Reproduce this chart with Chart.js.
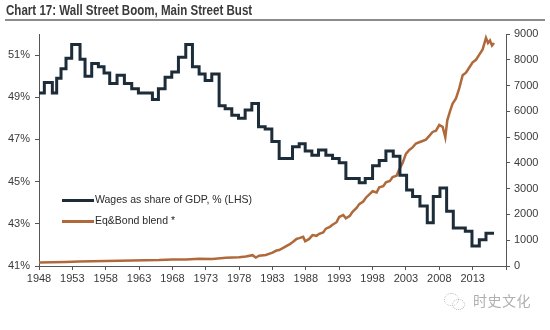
<!DOCTYPE html>
<html>
<head>
<meta charset="utf-8">
<script src="https://cdn.jsdelivr.net/npm/chart.js@4/dist/chart.umd.min.js"></script>
<style>
    html, body {
        margin: 0;
        padding: 0;
        background: #ffffff;
    }

    .frame {
        position: relative;
        width: 550px;
        height: 330px;
        overflow: hidden;
    }

    .chart-title {
        position: absolute;
        left: 6px;
        top: 2px;
        font-family: "Liberation Sans Narrow", "Liberation Sans", Arial, sans-serif;
        font-weight: bold;
        font-size: 14px;
        color: #3a3a3a;
        white-space: nowrap;
        transform-origin: left top;
    }

    .title-rule {
        position: absolute;
        left: 5px;
        right: 5px;
        top: 19px;
        height: 2px;
        background: #8c8c8c;
    }

    .mark {
        position: absolute;
        left: 473px;
        top: 290px;
        font-family: "Noto Sans CJK SC", sans-serif;
        font-size: 14px;
        color: #b0b0b0;
        letter-spacing: 0.5px;
    }

    .mark-icon {
        position: absolute;
        border: 1px dotted #b8b8b8;
        border-radius: 50%;
    }

    canvas {
        position: absolute;
        left: 0;
        top: 0;
    }
</style>
</head>
<body>
<div class="frame">
    <canvas id="wages-chart" width="550" height="330"></canvas>
    <div class="chart-title">Chart 17: Wall Street Boom, Main Street Bust</div>
    <div class="title-rule"></div>
    <div class="mark-icon" style="left:444px; top:293px; width:13px; height:11px;"></div>
    <div class="mark-icon" style="left:452px; top:299px; width:11px; height:9px;"></div>
    <div class="mark">时史文化</div>
</div>

<script>
// =========================================================
// DATA
// =========================================================

// wages as share of GDP (%), each value holds from its year to the next one
const wageYears = [
    1948.0, 1948.8, 1950.0, 1950.65, 1951.3, 1952.05, 1952.9, 1954.15, 1954.9, 1955.9,
    1956.9, 1957.75, 1958.6, 1959.7, 1960.8, 1961.9, 1962.9, 1965.0, 1965.9, 1966.9,
    1967.9, 1968.9, 1970.0, 1971.0, 1972.0, 1972.9, 1973.9, 1975.0, 1975.9, 1976.9,
    1977.9, 1978.9, 1979.9, 1980.9, 1981.9, 1982.9, 1984.0, 1986.0, 1987.0, 1987.9,
    1988.9, 1989.9, 1991.0, 1992.0, 1993.0, 1994.0, 1996.0, 1996.9, 1998.0, 1999.0,
    2000.0, 2001.1, 2002.1, 2003.1, 2004.0, 2005.1, 2006.2, 2007.1, 2008.1, 2009.1,
    2010.1, 2011.9, 2012.9, 2014.0, 2015.0, 2016.2
];

const wageShare = [
    49.2, 49.7, 49.2, 49.9, 50.35, 50.85, 51.5, 50.8, 50.0, 50.6,
    50.45, 50.15, 49.65, 50.05, 49.65, 49.4, 49.2, 48.9, 49.4, 49.95,
    50.2, 50.9, 51.5, 50.45, 50.1, 49.8, 50.1, 48.6, 48.45, 48.15,
    48.0, 48.4, 48.7, 47.6, 47.5, 46.9, 46.1, 46.65, 46.8, 46.45,
    46.25, 46.5, 46.25, 46.1, 45.9, 45.15, 44.95, 45.15, 45.75, 46.0,
    46.45, 46.2, 45.3, 44.6, 44.3, 43.85, 43.05, 44.3, 44.7, 43.6,
    42.8, 42.65, 41.95, 42.25, 42.55, 42.55
];

// equity & bond blend index (RHS)
const blendYears = [
    1948, 1950, 1952, 1954, 1956, 1958, 1960, 1962, 1964, 1966,
    1968, 1970, 1972, 1974, 1976, 1978, 1979, 1980, 1980.5, 1981,
    1982, 1983, 1983.6, 1984, 1984.6, 1985, 1985.6, 1986, 1986.6, 1987,
    1987.6, 1987.9, 1988.5, 1989, 1989.6, 1990, 1990.6, 1991, 1991.6, 1992,
    1992.6, 1993, 1993.6, 1994, 1994.6, 1995, 1995.6, 1996, 1996.6, 1997,
    1997.6, 1998, 1998.6, 1999, 1999.6, 2000, 2000.6, 2001, 2001.6, 2002,
    2002.5, 2003, 2003.5, 2004, 2004.5, 2005, 2005.5, 2006, 2006.5, 2007,
    2007.5, 2008, 2008.5, 2008.9, 2009.2, 2009.6, 2010, 2010.5, 2011, 2011.5,
    2012, 2012.5, 2013, 2013.5, 2014, 2014.5, 2015, 2015.3, 2015.6, 2015.9,
    2016.2
];

const blendValue = [
    140, 150, 160, 175, 185, 195, 205, 210, 225, 230,
    250, 250, 280, 270, 320, 340, 370, 420, 330, 400,
    430, 520, 600, 620, 700, 760, 850, 920, 1050, 1080,
    1130, 960, 1050, 1200, 1170, 1250, 1300, 1450, 1520, 1600,
    1700, 1900, 1980, 1850, 1950, 2100, 2250, 2400, 2500, 2650,
    2800, 2900, 2850, 3050, 3100, 3250, 3300, 3450, 3500, 3750,
    4000, 4350, 4500, 4600, 4750, 4800, 4850, 4900, 5050, 5200,
    5250, 5470, 5400, 4990, 5650, 6000, 6300, 6500, 6900, 7400,
    7500, 7700, 7900, 8000, 8200, 8400, 8850, 8650, 8750, 8550,
    8650
];

// axis ticks
const yearTicks = [1948, 1953, 1958, 1963, 1968, 1973, 1978, 1983, 1988, 1993, 1998, 2003, 2008, 2013, 2018];
const shareTicks = [41, 43, 45, 47, 49, 51];

// legend entries
const seriesNames = ["Wages as share of GDP, % (LHS)", "Eq&Bond blend *"];
const seriesColors = ["#1c2c39", "#b0693a"];

// =========================================================
// CHART
// =========================================================

const chartCanvas = document.getElementById("wages-chart");
const chartTitle = document.querySelector(".chart-title");

const TEXT_FONT = "'Liberation Sans Narrow', 'Liberation Sans', Arial, sans-serif";
const AXIS_COLOR = "#555555";

Chart.defaults.font.family = TEXT_FONT;
Chart.defaults.font.size = 11;
Chart.defaults.color = "#3a3a3a";

function toPoints(xs, ys) {
    const points = [];

    for (let index = 0; index < xs.length; index++) {
        points.push({ x: xs[index], y: ys[index] });
    }

    return points;
}

// squeeze the title into its row
function fitTitle() {
    const targetWidth = 246;
    const naturalWidth = chartTitle.scrollWidth;

    if (naturalWidth > 0) {
        chartTitle.style.transform = "scaleX(" + (targetWidth / naturalWidth) + ")";
    }
}

// --- Legend drawn inside the plot --- //

const insideLegend = {
    id: "insideLegend",
    afterDatasetsDraw(chart) {
        const ctx = chart.ctx;
        const rows = [200.5, 221.5];

        ctx.save();
        ctx.font = "10.5px " + TEXT_FONT;
        ctx.textBaseline = "middle";
        ctx.fillStyle = "#2a2a2a";

        for (let index = 0; index < seriesNames.length; index++) {
            ctx.strokeStyle = seriesColors[index];
            ctx.lineWidth = 3;
            ctx.beginPath();
            ctx.moveTo(62, rows[index]);
            ctx.lineTo(94, rows[index]);
            ctx.stroke();

            ctx.fillText(seriesNames[index], 95, rows[index]);
        }

        ctx.restore();
    }
};

function axisGrid() {
    return {
        drawOnChartArea: false,
        drawTicks: true,
        tickLength: 4,
        color: AXIS_COLOR,
        lineWidth: 1
    };
}

function axisBorder() {
    return {
        display: true,
        color: AXIS_COLOR,
        width: 1
    };
}

const wagesChart = new Chart(chartCanvas, {
    type: "line",
    data: {
        datasets: [
            {
                label: seriesNames[0],
                data: toPoints(wageYears, wageShare),
                yAxisID: "share",
                borderColor: seriesColors[0],
                borderWidth: 3,
                stepped: true,
                pointRadius: 0,
                order: 1
            },
            {
                label: seriesNames[1],
                data: toPoints(blendYears, blendValue),
                yAxisID: "blend",
                borderColor: seriesColors[1],
                borderWidth: 2.5,
                tension: 0,
                pointRadius: 0,
                order: 2
            }
        ]
    },
    options: {
        responsive: false,
        animation: false,
        layout: {
            padding: { top: 34, left: 0, right: 0, bottom: 0 }
        },
        scales: {
            x: {
                type: "linear",
                min: 1948,
                max: 2018,
                grid: axisGrid(),
                border: axisBorder(),
                afterBuildTicks: function (scale) {
                    scale.ticks = yearTicks.map(value => ({ value: value }));
                },
                afterFit: function (scale) {
                    scale.height = 64;
                },
                ticks: {
                    autoSkip: false,
                    maxRotation: 0,
                    padding: 2,
                    callback: function (value) {
                        return value === 2018 ? "" : String(value);
                    }
                }
            },
            share: {
                type: "linear",
                position: "left",
                min: 41,
                max: 52,
                grid: axisGrid(),
                border: axisBorder(),
                afterBuildTicks: function (scale) {
                    scale.ticks = shareTicks.map(value => ({ value: value }));
                },
                afterFit: function (scale) {
                    scale.width = 39;
                },
                ticks: {
                    padding: 5,
                    callback: function (value) {
                        return value + "%";
                    }
                }
            },
            blend: {
                type: "linear",
                position: "right",
                min: 0,
                max: 9000,
                grid: axisGrid(),
                border: axisBorder(),
                afterFit: function (scale) {
                    scale.width = 44;
                },
                ticks: {
                    stepSize: 1000,
                    padding: 4,
                    callback: function (value) {
                        return String(value);
                    }
                }
            }
        },
        plugins: {
            legend: { display: false },
            tooltip: { enabled: false }
        }
    },
    plugins: [insideLegend]
});

fitTitle();
</script>
</body>
</html>
